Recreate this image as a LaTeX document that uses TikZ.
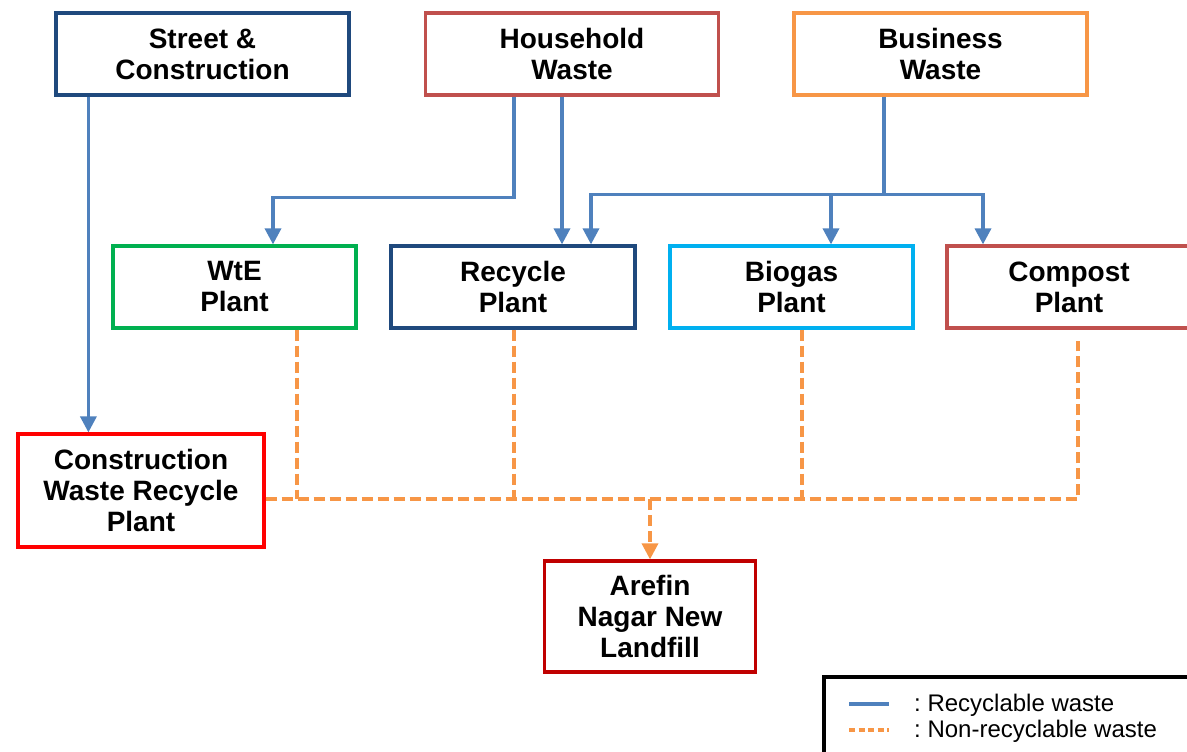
\documentclass[tikz,border=0pt]{standalone}
\usepackage{fontspec}
\setmainfont{Liberation Sans}
\usetikzlibrary{arrows.meta}
\definecolor{cblue}{HTML}{4F81BD}
\definecolor{corange}{HTML}{F79646}
\definecolor{chouse}{HTML}{C0504D}
\definecolor{cstreet}{HTML}{1F497D}
\definecolor{cgreen}{HTML}{00B050}
\definecolor{ccyan}{HTML}{00B0F0}
\definecolor{cred}{HTML}{FF0000}
\definecolor{cdred}{HTML}{C00000}
\tikzset{
  wbox/.style={draw, line width=3.2pt, fill=white, inner sep=0pt, minimum width=293pt, minimum height=82pt, align=center, font=\bfseries\fontsize{28}{31}\selectfont},
  recy/.style={draw=cblue, line width=3.4pt, -{Triangle[width=16pt,length=16pt]}},
  recyline/.style={draw=cblue, line width=3.4pt},
  nonrec/.style={draw=corange, line width=3.4pt, dash pattern=on 11pt off 5pt},
  nonrecarrow/.style={nonrec, -{Triangle[width=16pt,length=16pt]}},
  legtext/.style={anchor=base west, inner sep=0pt, font=\fontsize{24}{27}\selectfont}
}
\begin{document}
\begin{tikzpicture}[x=1pt,y=-1pt]
\useasboundingbox (0,0) rectangle (1187,752);
% top row
\node[wbox, draw=cstreet] (street) at (202.5,54) {Street \&\\Construction};
\node[wbox, draw=chouse] (house) at (572,54) {Household\\Waste};
\node[wbox, draw=corange] (bus) at (940.5,54) {Business\\Waste};
% middle row
\node[wbox, draw=cgreen, minimum width=243pt] (wte) at (234.5,287) {WtE\\Plant};
\node[wbox, draw=cstreet, minimum width=244pt] (rec) at (513,287) {Recycle\\Plant};
\node[wbox, draw=ccyan, minimum width=243pt] (bio) at (791.5,287) {Biogas\\Plant};
\node[wbox, draw=chouse, minimum width=244pt] (comp) at (1069,287) {Compost\\Plant};
% bottom
\node[wbox, draw=cred, minimum width=246pt, minimum height=113pt] (cwrp) at (141,490.5) {Construction\\Waste Recycle\\Plant};
\node[wbox, draw=cdred, minimum width=211pt, minimum height=111pt] (land) at (650,616.5) {Arefin\\Nagar New\\Landfill};
% recyclable connectors
\coordinate (s1) at ([xshift=34pt]street.south west);
\draw[recy] (s1) -- (s1 |- cwrp.north);
\draw[recy] ([xshift=-58pt]house.south) -- ++(0,101) -| ([xshift=38.5pt]wte.north);
\coordinate (h2) at ([xshift=-10pt]house.south);
\draw[recy] (h2) -- (h2 |- rec.north);
\draw[recyline] ([xshift=-56.5pt]bus.south) -- ++(0,98) coordinate (bj);
\draw[recy] (bj) -| ([xshift=78pt]rec.north);
\draw[recy] (bj) -| ([xshift=-86pt]comp.north);
\coordinate (bt) at ([xshift=39.5pt]bio.north);
\draw[recy] (bt |- bj) -- (bt);
% non-recyclable connectors
\coordinate (o1) at ([xshift=62.5pt]wte.south);
\coordinate (o2) at ([xshift=1pt]rec.south);
\coordinate (o3) at ([xshift=10.5pt]bio.south);
\coordinate (o4) at ([xshift=9pt,yshift=-11pt]comp.south);
\coordinate (hl) at ([yshift=-8.5pt]cwrp.east);
\draw[nonrec] (hl) -- (hl -| o4) -- (o4);
\draw[nonrec] (o1) -- (o1 |- hl);
\draw[nonrec] (o2) -- (o2 |- hl);
\draw[nonrec] (o3) -- (o3 |- hl);
\draw[nonrecarrow] (land.north |- hl) -- (land.north);
% legend
\draw[line width=4.5pt] (824,677) rectangle (1215,780);
\draw[cblue, line width=3.8pt] (849,704) -- (889,704);
\draw[corange, line width=3.8pt, dash pattern=on 6pt off 3.5pt] (849,730) -- (889,730);
\node[legtext] (l1) at (914,711) {:\ Recyclable waste};
\node[legtext] (l2) at (914,737) {:\ Non-recyclable waste};
\end{tikzpicture}
\end{document}
